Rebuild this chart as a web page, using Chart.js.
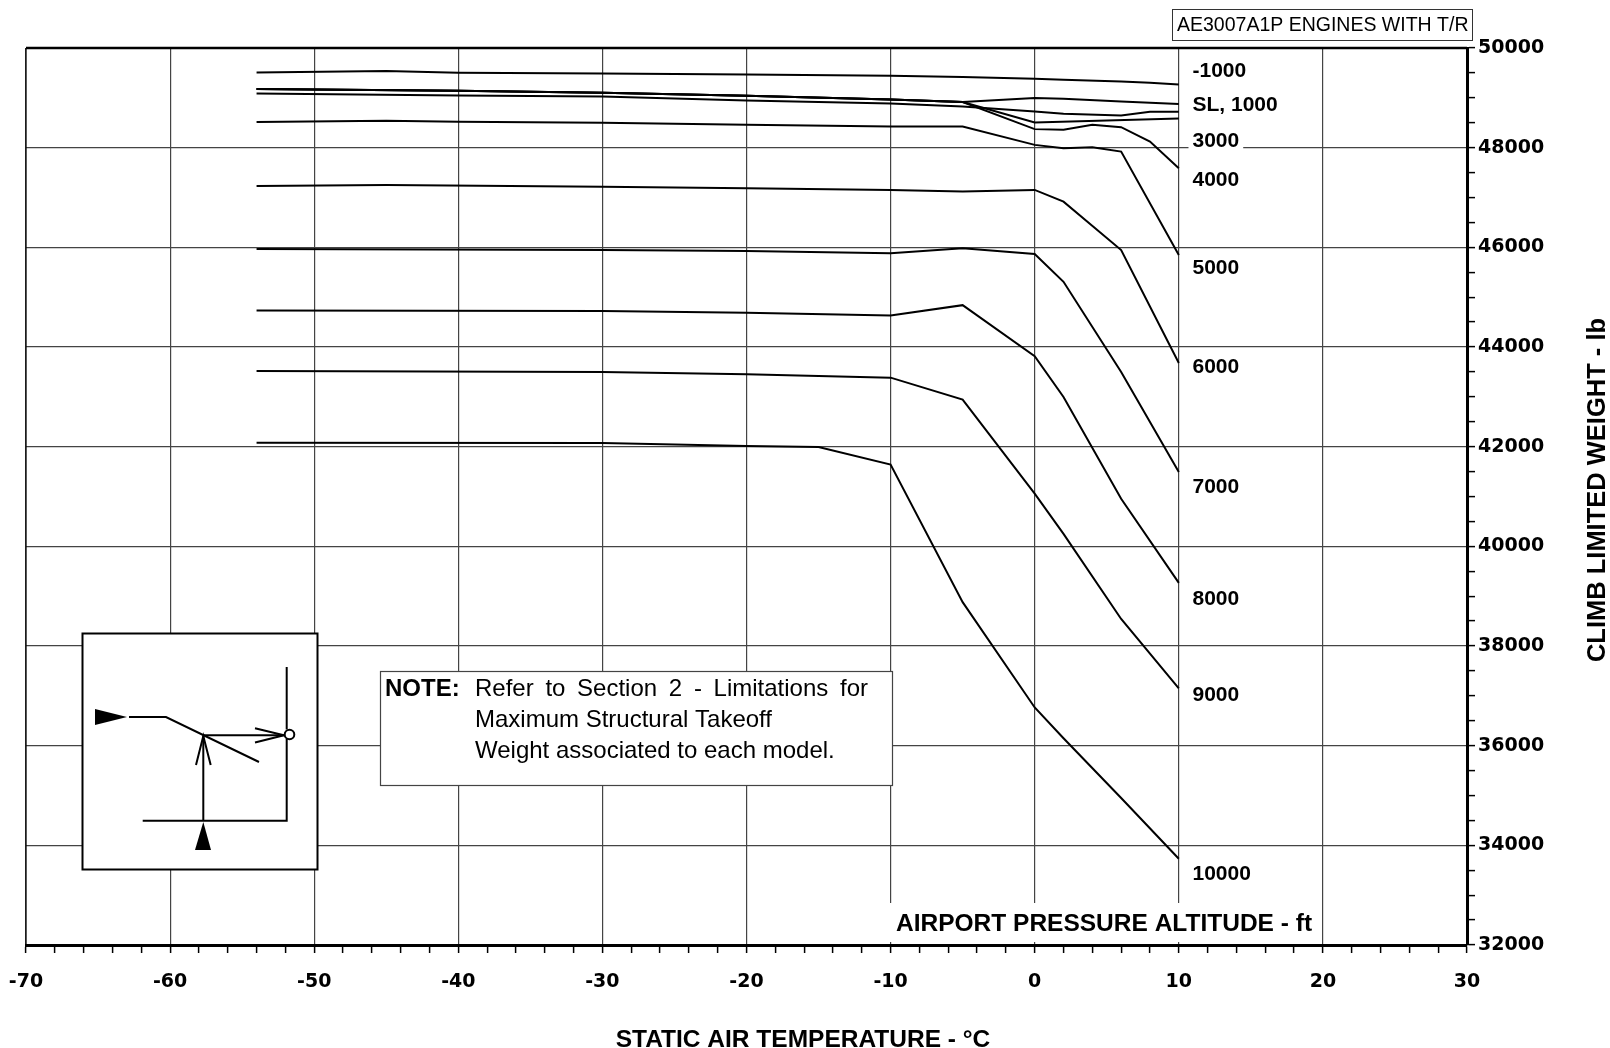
<!DOCTYPE html>
<html>
<head>
<meta charset="utf-8">
<script src="https://cdn.jsdelivr.net/npm/chart.js@4.4.1/dist/chart.umd.min.js"></script>
<style>
  html, body { margin: 0; padding: 0; background: #fff; }
  canvas { display: block; }
</style>
</head>
<body>
<canvas id="chart" width="1610" height="1048"></canvas>
<script>
// Static air temperature (deg C) and climb limited weight (lb) per airport pressure altitude
const tM1000 = [-54, -45, -40, -30, -20, -10, -5, 0, 2, 6, 8, 10];
const wM1000 = [49510, 49540, 49505, 49490, 49470, 49443, 49417, 49383, 49363, 49329, 49302, 49268];
const tSL = [-54, -40, -30, -20, -10, -5, 0, 2, 6, 10];
const wSL = [49176, 49142, 49101, 49040, 48965, 48915, 48995, 48981, 48927, 48874];
const t1000 = [-54, -40, -30, -20, -10, -5, 0, 2, 6, 8, 10];
const w1000 = [49088, 49048, 49027, 48945, 48885, 48826, 48726, 48679, 48645, 48720, 48720];
const t3000 = [-54, -40, -30, -20, -10, -5, 0, 10];
const w3000 = [49176, 49142, 49101, 49040, 48965, 48915, 48505, 48585];
const t4000 = [-54, -40, -30, -20, -10, -5, 0, 2, 4, 6, 8, 10];
const w4000 = [49176, 49142, 49101, 49040, 48965, 48915, 48372, 48358, 48458, 48412, 48123, 47588];
const t5000 = [-54, -45, -40, -30, -20, -10, -5, 0, 2, 4, 6, 10];
const w5000 = [48513, 48539, 48519, 48498, 48458, 48424, 48424, 48056, 47990, 48010, 47922, 45845];
const t6000 = [-54, -45, -30, -20, -10, -5, 0, 2, 6, 10];
const w6000 = [47232, 47252, 47218, 47186, 47152, 47118, 47152, 46917, 45946, 43680];
const t7000 = [-54, -30, -20, -10, -5, 0, 2, 6, 10];
const w7000 = [45966, 45946, 45926, 45879, 45980, 45865, 45309, 43500, 41490];
const t8000 = [-54, -30, -20, -10, -5, 0, 2, 6, 10];
const w8000 = [44734, 44720, 44686, 44630, 44840, 43815, 42997, 40955, 39267];
const t9000 = [-54, -30, -20, -10, -5, 0, 2, 6, 10];
const w9000 = [43520, 43500, 43453, 43385, 42945, 41056, 40251, 38543, 37148];
const t10000 = [-54, -30, -20, -15, -10, -5, 0, 2, 6, 10];
const w10000 = [42081, 42073, 42012, 41992, 41640, 38880, 36767, 36150, 34950, 33731];

// Curve labels and the weight they sit at (right of the 10 deg C line)
const curveLabels = ['-1000', 'SL, 1000', '3000', '4000', '5000', '6000', '7000', '8000', '9000', '10000'];
const curveLabelAt = [49558, 48880, 48151, 47373, 45594, 43614, 41216, 38967, 37026, 33440];

const series = [
  [tM1000, wM1000], [tSL, wSL], [t1000, w1000], [t3000, w3000], [t4000, w4000],
  [t5000, w5000], [t6000, w6000], [t7000, w7000], [t8000, w8000], [t9000, w9000], [t10000, w10000],
];

const SANS = '"Liberation Sans", Arial, sans-serif';

const datasets = series.map(([t, w]) => ({
  data: t.map((x, i) => ({ x, y: w[i] })),
  borderColor: '#000',
  borderWidth: 2,
  pointRadius: 0,
  tension: 0,
  fill: false,
}));

function seg(ctx, pts) {
  ctx.beginPath();
  ctx.moveTo(pts[0], pts[1]);
  for (let i = 2; i < pts.length; i += 2) ctx.lineTo(pts[i], pts[i + 1]);
  ctx.stroke();
}

function justify(ctx, text, x0, x1, y) {
  const words = text.split(' ');
  const total = words.reduce((s, w) => s + ctx.measureText(w).width, 0);
  const gap = (x1 - x0 - total) / (words.length - 1);
  let x = x0;
  words.forEach((w) => {
    ctx.fillText(w, x, y);
    x += ctx.measureText(w).width + gap;
  });
}

const overlay = {
  id: 'overlay',
  afterDraw(chart) {
    const { ctx, chartArea: a, scales: { x, y } } = chart;
    ctx.save();
    ctx.strokeStyle = '#000';
    ctx.fillStyle = '#000';

    // frame
    ctx.lineWidth = 2.5;
    seg(ctx, [a.left, a.top, a.right, a.top]);
    ctx.lineWidth = 1.2;
    seg(ctx, [a.left, a.top, a.left, a.bottom]);

    // curve labels
    ctx.font = 'bold 21px ' + SANS;
    ctx.textBaseline = 'middle';
    ctx.textAlign = 'left';
    curveLabels.forEach((lab, i) => {
      const px = x.getPixelForValue(10.95);
      const py = y.getPixelForValue(curveLabelAt[i]) + 1;
      const w = ctx.measureText(lab).width;
      ctx.fillStyle = '#fff';
      ctx.fillRect(px - 4, py - 11, w + 8, 22);
      ctx.fillStyle = '#000';
      ctx.fillText(lab, px, py);
    });

    // airport pressure altitude label
    ctx.fillStyle = '#fff';
    ctx.fillRect(884, 903, 434, 39);
    ctx.fillStyle = '#000';
    ctx.font = 'bold 24.5px ' + SANS;
    ctx.textBaseline = 'alphabetic';
    ctx.fillText('AIRPORT PRESSURE ALTITUDE - ft', 896, 931);

    // header box
    ctx.fillStyle = '#fff';
    ctx.fillRect(1172, 9, 300, 32);
    ctx.lineWidth = 1;
    ctx.strokeStyle = '#333';
    ctx.strokeRect(1172.5, 9.5, 300, 31);
    ctx.fillStyle = '#000';
    ctx.font = '19.5px ' + SANS;
    ctx.fillText('AE3007A1P ENGINES WITH T/R', 1177, 30.5);

    // note box
    ctx.fillStyle = '#fff';
    ctx.fillRect(380, 671, 512, 114);
    ctx.strokeStyle = '#444';
    ctx.lineWidth = 1.2;
    ctx.strokeRect(380.5, 671.5, 512, 114);
    ctx.fillStyle = '#000';
    ctx.font = 'bold 24px ' + SANS;
    ctx.fillText('NOTE:', 385, 696);
    ctx.font = '24px ' + SANS;
    justify(ctx, 'Refer to Section 2 - Limitations for', 475, 868, 696);
    ctx.fillText('Maximum Structural Takeoff', 475, 727);
    ctx.fillText('Weight associated to each model.', 475, 758);

    // inset "how to read" diagram
    ctx.fillStyle = '#fff';
    ctx.fillRect(82, 633, 235, 236);
    ctx.strokeStyle = '#000';
    ctx.lineWidth = 2;
    ctx.strokeRect(82.5, 633.5, 235, 236);
    ctx.fillStyle = '#000';
    ctx.beginPath();
    ctx.moveTo(95, 709); ctx.lineTo(95, 725); ctx.lineTo(127, 717); ctx.closePath();
    ctx.fill();
    ctx.beginPath();
    ctx.moveTo(195, 850); ctx.lineTo(211, 850); ctx.lineTo(203.3, 822); ctx.closePath();
    ctx.fill();
    seg(ctx, [129, 717, 166, 717, 259, 762]);
    seg(ctx, [203.3, 735.3, 285, 735.3]);
    seg(ctx, [255, 728.3, 284, 735.3, 255, 742.5]);
    seg(ctx, [203.3, 820.7, 203.3, 736]);
    seg(ctx, [196, 765, 203.3, 736, 210.7, 765]);
    seg(ctx, [142.7, 820.7, 286.7, 820.7, 286.7, 739]);
    seg(ctx, [286.7, 729.5, 286.7, 667]);
    ctx.fillStyle = '#fff';
    ctx.beginPath();
    ctx.arc(289.5, 734.5, 4.8, 0, Math.PI * 2);
    ctx.fill();
    ctx.stroke();

    // axis titles
    ctx.fillStyle = '#000';
    ctx.font = 'bold 24.5px ' + SANS;
    ctx.textAlign = 'center';
    ctx.fillText('STATIC AIR TEMPERATURE - \u00B0C', 803, 1046.5);
    ctx.save();
    ctx.translate(1598, 490);
    ctx.rotate(-Math.PI / 2);
    ctx.font = 'bold 25.5px ' + SANS;
    ctx.textBaseline = 'middle';
    ctx.fillText('CLIMB LIMITED WEIGHT - lb', 0, 0);
    ctx.restore();

    ctx.restore();
  },
};

const isMult = (v, m) => Math.abs(v % m) < 1e-6;

new Chart(document.getElementById('chart'), {
  type: 'line',
  data: { datasets },
  options: {
    responsive: false,
    animation: false,
    devicePixelRatio: 1,
    layout: { padding: { left: 26, top: 48, right: 0, bottom: 0 } },
    plugins: { legend: false, tooltip: { enabled: false } },
    scales: {
      x: {
        type: 'linear',
        min: -70,
        max: 30,
        afterFit: (s) => { s.height = 103; s.paddingLeft = 0; s.paddingRight = 0; },
        ticks: {
          stepSize: 2,
          autoSkip: false,
          maxRotation: 0,
          padding: 18,
          color: '#000',
          font: { family: '"DejaVu Sans"', weight: 'bold', size: 19 },
          callback: (v) => (isMult(v, 10) ? String(v) : ''),
        },
        grid: {
          color: (c) => (c.tick && isMult(c.tick.value, 10) ? '#444' : 'rgba(0,0,0,0)'),
          lineWidth: 1.2,
          tickColor: '#000',
          tickLength: 8,
          tickWidth: 1.5,
        },
        border: { display: true, color: '#000', width: 3 },
      },
      y: {
        type: 'linear',
        position: 'right',
        min: 32000,
        max: 50000,
        afterFit: (s) => { s.width = 143; s.paddingTop = 0; s.paddingBottom = 0; },
        ticks: {
          stepSize: 500,
          autoSkip: false,
          padding: 3,
          color: '#000',
          font: { family: '"DejaVu Sans"', weight: 'bold', size: 19 },
          callback: (v) => (isMult(v, 2000) ? String(v) : ''),
        },
        grid: {
          color: (c) => (c.tick && isMult(c.tick.value, 2000) ? '#444' : 'rgba(0,0,0,0)'),
          lineWidth: 1.2,
          tickColor: '#000',
          tickLength: 8,
          tickWidth: 1.5,
        },
        border: { display: true, color: '#000', width: 3 },
      },
    },
  },
  plugins: [overlay],
});
</script>
</body>
</html>
